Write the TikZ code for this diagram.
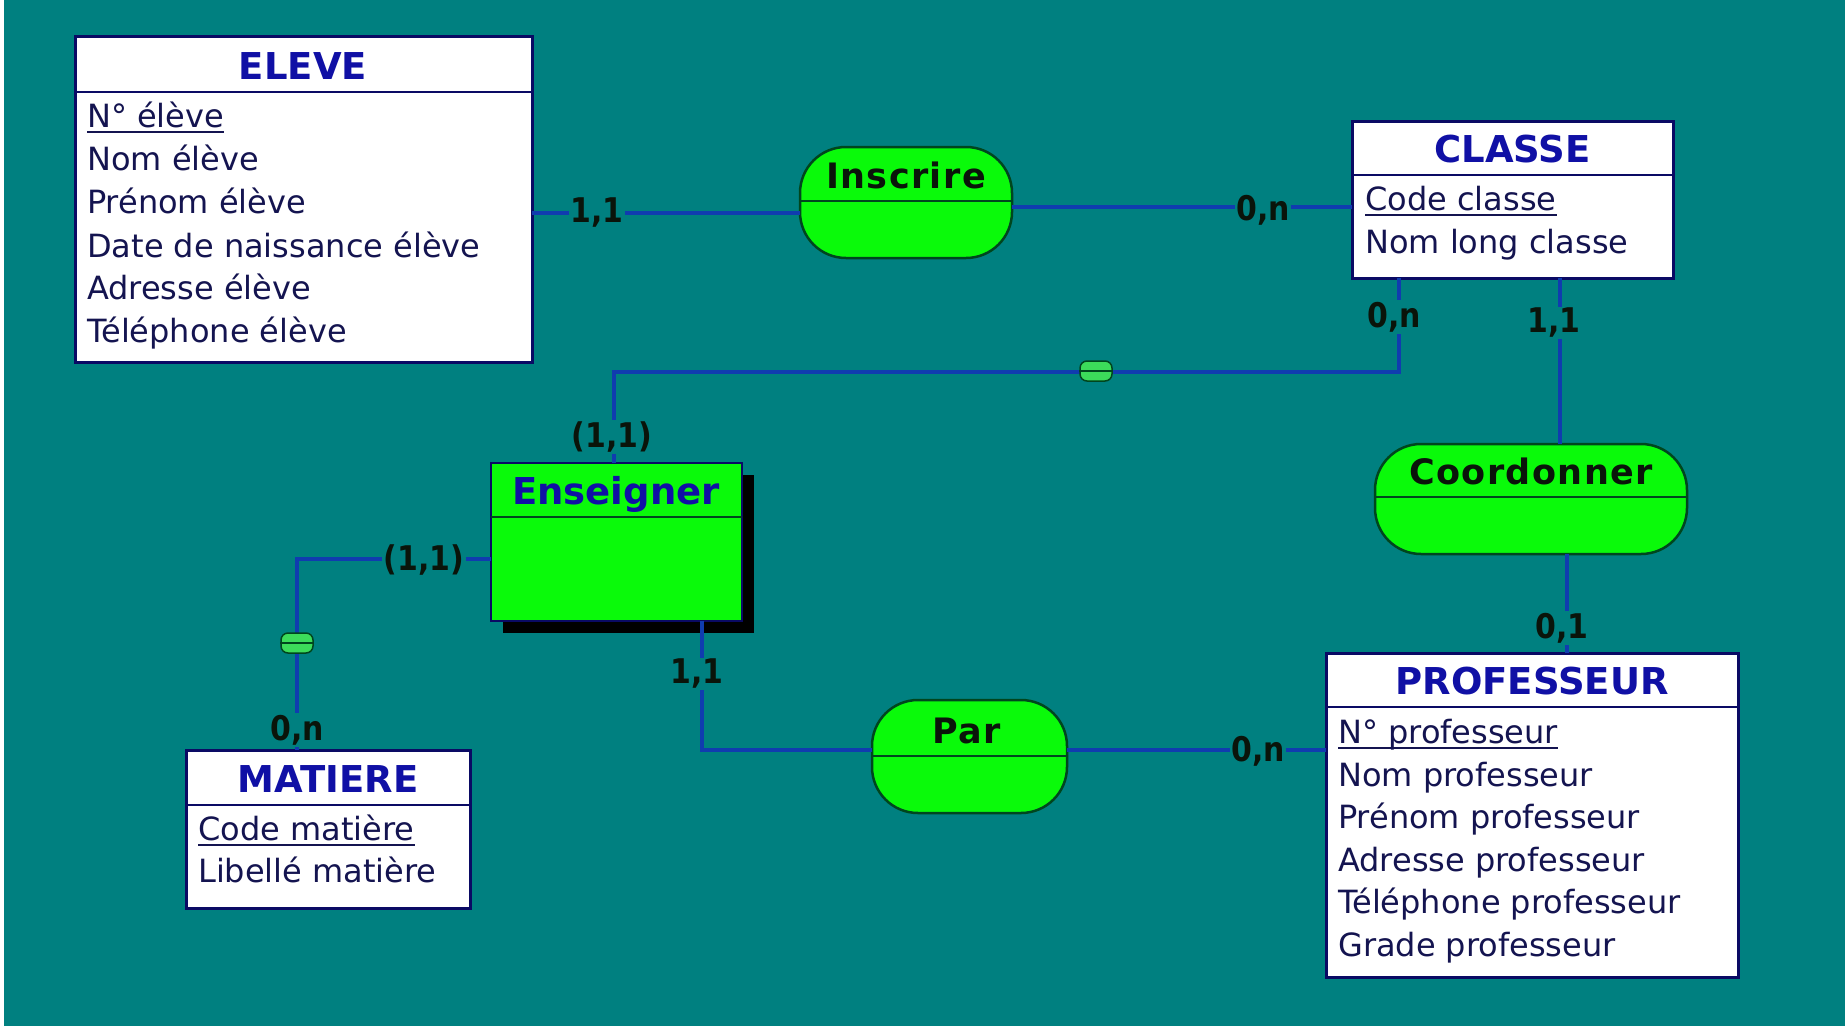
\documentclass[tikz,border=0pt]{standalone}
\usepackage{fontspec}
\setmainfont{DejaVu Sans}
\newfontfamily\cardfont{DejaVu Sans}[FakeStretch=0.88]
\newfontfamily\relfont{DejaVu Sans}[LetterSpace=4]

\definecolor{bgteal}{RGB}{0,128,128}
\definecolor{entborder}{RGB}{10,10,100}
\definecolor{titleblue}{RGB}{16,16,165}
\definecolor{attrtext}{RGB}{20,20,80}
\definecolor{linkblue}{RGB}{16,60,175}
\definecolor{relgreen}{RGB}{10,250,10}
\definecolor{reldark}{RGB}{0,70,30}
\definecolor{cardtext}{RGB}{10,20,10}
\definecolor{markgreen}{RGB}{60,220,90}

\begin{document}
\begin{tikzpicture}[x=1pt,y=-1pt,
  entity/.style={draw=entborder, line width=3pt, fill=white, anchor=north west, inner sep=0pt, outer sep=0pt},
  assoc/.style={draw=entborder, line width=2.5pt, fill=relgreen, anchor=north west, inner sep=0pt, outer sep=0pt},
  shadowbox/.style={fill=black, anchor=north west, inner sep=0pt, outer sep=0pt},
  divline/.style={draw=entborder, line width=2.5pt},
  etitle/.style={anchor=base, text=titleblue, font=\fontsize{37}{44}\selectfont\bfseries, inner sep=0pt},
  attr/.style={anchor=base west, text=attrtext, font=\fontsize{32}{38}\selectfont, inner sep=0pt},
  ul/.style={draw=attrtext, line width=2pt},
  rel/.style={draw=reldark, line width=2.5pt, fill=relgreen, rounded corners=46pt, inner sep=0pt, outer sep=0pt},
  reldiv/.style={draw=reldark, line width=2.5pt},
  rellabel/.style={anchor=base, text=cardtext, font=\relfont\fontsize{35}{42}\selectfont\bfseries, inner sep=0pt},
  link/.style={draw=linkblue, line width=3.5pt},
  card/.style={fill=bgteal, text=cardtext, font=\cardfont\fontsize{34}{40}\selectfont\bfseries, inner sep=1.5pt},
  marker/.style={draw=reldark, line width=1.5pt, fill=markgreen, rounded corners=7pt, minimum width=32pt, minimum height=20pt, inner sep=0pt},
  markline/.style={draw=reldark, line width=2pt}
]
% background
\fill[white] (0,0) rectangle (1845,1026);
\fill[bgteal] (4,0) rectangle (1845,1026);
\useasboundingbox (0,0) rectangle (1845,1026);

% ---------- entities ----------
% ELEVE
\node[entity, minimum width=457pt, minimum height=326pt] (eleve) at (75,36) {};
\draw[divline] (eleve.west |- 0,92) -- (eleve.east |- 0,92);
\node[etitle] (eleveT) at (303,79) {ELEVE};
\node[attr] (eleveA1) at (87,127) {N° élève};
\node[attr] (eleveA2) at (87,170) {Nom élève};
\node[attr] (eleveA3) at (87,213) {Prénom élève};
\node[attr] (eleveA4) at (87,257) {Date de naissance élève};
\node[attr] (eleveA5) at (87,299) {Adresse élève};
\node[attr] (eleveA6) at (87,342) {Téléphone élève};
\draw[ul] ([yshift=-5pt]eleveA1.base west) -- ([yshift=-5pt]eleveA1.base east);

% CLASSE
\node[entity, minimum width=321pt, minimum height=157pt] (classe) at (1352,121) {};
\draw[divline] (classe.west |- 0,175) -- (classe.east |- 0,175);
\node[etitle] (classeT) at (1512.5,162) {CLASSE};
\node[attr] (classeA1) at (1365,210) {Code classe};
\node[attr] (classeA2) at (1365,253) {Nom long classe};
\draw[ul] ([yshift=-5pt]classeA1.base west) -- ([yshift=-5pt]classeA1.base east);

% MATIERE
\node[entity, minimum width=284pt, minimum height=158pt] (matiere) at (186,750) {};
\draw[divline] (matiere.west |- 0,805) -- (matiere.east |- 0,805);
\node[etitle] (matiereT) at (328,792) {MATIERE};
\node[attr] (matiereA1) at (198,840) {Code matière};
\node[attr] (matiereA2) at (198,882) {Libellé matière};
\draw[ul] ([yshift=-5pt]matiereA1.base west) -- ([yshift=-5pt]matiereA1.base east);

% PROFESSEUR
\node[entity, minimum width=412pt, minimum height=324pt] (prof) at (1326,653) {};
\draw[divline] (prof.west |- 0,707) -- (prof.east |- 0,707);
\node[etitle] (profT) at (1532,694) {PROFESSEUR};
\node[attr] (profA1) at (1338,743) {N° professeur};
\node[attr] (profA2) at (1338,786) {Nom professeur};
\node[attr] (profA3) at (1338,828) {Prénom professeur};
\node[attr] (profA4) at (1338,871) {Adresse professeur};
\node[attr] (profA5) at (1338,913) {Téléphone professeur};
\node[attr] (profA6) at (1338,956) {Grade professeur};
\draw[ul] ([yshift=-5pt]profA1.base west) -- ([yshift=-5pt]profA1.base east);

% Enseigner (entity-association with shadow)
\node[shadowbox, minimum width=251pt, minimum height=158pt] (enseignerS) at (503,475) {};
\node[assoc, minimum width=251pt, minimum height=158pt] (enseigner) at (491,463) {};
\draw[reldiv] (enseigner.west |- 0,517) -- (enseigner.east |- 0,517);
\node[etitle] (enseignerT) at (616,504) {Enseigner};

% ---------- associations ----------
\node[rel, minimum width=212pt, minimum height=111pt] (inscrire) at (906,202.5) {};
\draw[reldiv] (inscrire.west |- 0,201) -- (inscrire.east |- 0,201);
\node[rellabel] (inscrireT) at (906,188) {Inscrire};

\node[rel, minimum width=312pt, minimum height=110pt] (coord) at (1531,499) {};
\draw[reldiv] (coord.west |- 0,497) -- (coord.east |- 0,497);
\node[rellabel] (coordT) at (1531,484) {Coordonner};

\node[rel, minimum width=195pt, minimum height=113pt] (par) at (969.5,756.5) {};
\draw[reldiv] (par.west |- 0,756) -- (par.east |- 0,756);
\node[rellabel] (parT) at (967,743) {Par};

% ---------- links ----------
\draw[link] (eleve.east |- 0,213) -- (inscrire.west |- 0,213);
\draw[link] (inscrire.east |- 0,207) -- (classe.west |- 0,207);
\draw[link] (classe.south -| 1399,0) -- (1399,372) -| (enseigner.north -| 614,0);
\draw[link] (classe.south -| 1560,0) -- (coord.north -| 1560,0);
\draw[link] (coord.south -| 1567,0) -- (prof.north -| 1567,0);
\draw[link] (enseigner.south -| 702,0) |- (par.west |- 0,750);
\draw[link] (par.east |- 0,750) -- (prof.west |- 0,750);
\draw[link] (enseigner.west |- 0,559) -| (matiere.north -| 297,0);

% link markers
\node[marker] (mk1) at (1096,371) {};
\draw[markline] (mk1.west) -- (mk1.east);
\node[marker] (mk2) at (297,643) {};
\draw[markline] (mk2.west) -- (mk2.east);

% cardinalities
\node[card] (c1) at (597,213) {1,1};
\node[card] (c2) at (1263,210) {0,n};
\node[card] (c3) at (1394,317) {0,n};
\node[card] (c4) at (612,437) {(1,1)};
\node[card] (c5) at (1554,323) {1,1};
\node[card] (c6) at (1562,628) {0,1};
\node[card] (c7) at (697,674) {1,1};
\node[card] (c8) at (1258,751) {0,n};
\node[card] (c9) at (424,560) {(1,1)};
\node[card] (c10) at (297,730) {0,n};
\end{tikzpicture}
\end{document}
